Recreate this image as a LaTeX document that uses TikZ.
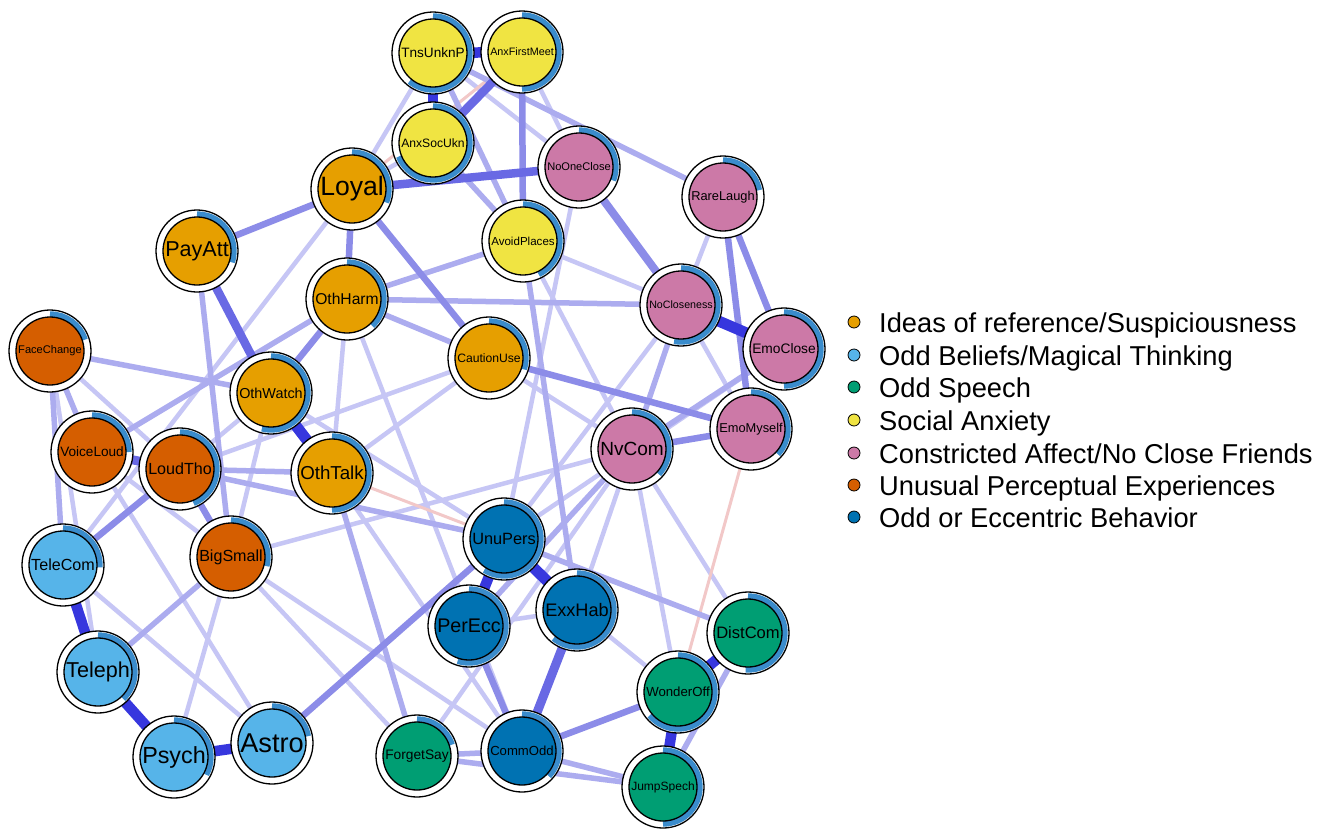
\documentclass[tikz,border=0pt]{standalone}
\usepackage{fontspec}
\setsansfont{Liberation Sans}
\usepackage{graphicx}
\definecolor{cOrange}{HTML}{E69F00}
\definecolor{cSky}{HTML}{56B4E9}
\definecolor{cGreen}{HTML}{009E73}
\definecolor{cYellow}{HTML}{F0E442}
\definecolor{cPink}{HTML}{CC79A7}
\definecolor{cVerm}{HTML}{D55E00}
\definecolor{cBlue}{HTML}{0072B2}
\definecolor{arccol}{RGB}{58,140,204}
\definecolor{ecA}{RGB}{55,55,222}
\definecolor{ecB}{RGB}{105,105,228}
\definecolor{ecC}{RGB}{140,140,232}
\definecolor{ecD}{RGB}{172,172,239}
\definecolor{ecE}{RGB}{198,198,245}
\definecolor{ecN}{RGB}{242,200,200}
\tikzset{
  ea/.style={draw=ecA,line width=10.5},
  eb/.style={draw=ecB,line width=8.5},
  ec/.style={draw=ecC,line width=6.5},
  ed/.style={draw=ecD,line width=5.5},
  ee/.style={draw=ecE,line width=4.5},
  en/.style={draw=ecN,line width=3},
  lgdot/.style={circle,draw=black,line width=0.8,minimum size=12pt,inner sep=0pt},
  lgtext/.style={anchor=base west,inner sep=0pt,font=\sffamily\fontsize{27.3}{31}\selectfont}
}
\newcommand\drawnode[3]{%
  \fill[white] (#1) circle[radius=41];
  \draw[arccol,line width=5.6] (#1) ++(-90:36.9) arc[start angle=-90,delta angle=#3*360,radius=36.9];
  \draw[black,line width=1.3] (#1) circle[radius=41];
  \draw[black,line width=1.3,fill=#2] (#1) circle[radius=34];
  \node[inner sep=0pt,font=\sffamily] (#1-lab) at (#1) {\resizebox{63.5pt}{!}{#1}};
}
\begin{document}
\begin{tikzpicture}[x=1pt,y=-1pt]
\useasboundingbox[fill=white] (0,0) rectangle (1327,828);
% node centres
\coordinate (TnsUnknP) at (433,53);
\coordinate (AnxFirstMeet) at (522,52);
\coordinate (AnxSocUkn) at (433,143);
\coordinate (NoOneClose) at (579,167);
\coordinate (RareLaugh) at (723,197);
\coordinate (AvoidPlaces) at (523,241);
\coordinate (NoCloseness) at (681,305);
\coordinate (EmoClose) at (784,349);
\coordinate (CautionUse) at (489,358);
\coordinate (Loyal) at (352,189);
\coordinate (PayAtt) at (197,251);
\coordinate (OthHarm) at (347,299);
\coordinate (FaceChange) at (50,351);
\coordinate (OthWatch) at (271,393);
\coordinate (OthTalk) at (332,473);
\coordinate (VoiceLoud) at (92,452);
\coordinate (LoudTho) at (180,469);
\coordinate (BigSmall) at (231,557);
\coordinate (TeleCom) at (63,565);
\coordinate (Teleph) at (98,672);
\coordinate (Psych) at (174,757);
\coordinate (Astro) at (272,743);
\coordinate (ForgetSay) at (417,756);
\coordinate (CommOdd) at (522,751);
\coordinate (PerEcc) at (469,626);
\coordinate (ExxHab) at (577,610);
\coordinate (UnuPers) at (504,539);
\coordinate (NvCom) at (632,449);
\coordinate (EmoMyself) at (751,429);
\coordinate (DistCom) at (748,633);
\coordinate (WonderOff) at (678,692);
\coordinate (JumpSpech) at (663,787);
% weakest edges
\draw[ee] (TnsUnknP) -- (Loyal);
\draw[ee] (Loyal) -- (AnxSocUkn);
\draw[ee] (TnsUnknP) -- (NoOneClose);
\draw[ee] (AnxFirstMeet) -- (NoOneClose);
\draw[ee] (NoOneClose) -- (UnuPers);
\draw[ee] (AvoidPlaces) -- (NoCloseness);
\draw[ee] (AvoidPlaces) -- (NvCom);
\draw[ee] (RareLaugh) -- (NoCloseness);
\draw[ee] (NoCloseness) -- (UnuPers);
\draw[ee] (EmoClose) -- (UnuPers);
\draw[ee] (NoCloseness) -- (EmoMyself);
\draw[ee] (FaceChange) -- (LoudTho);
\draw[ee] (FaceChange) -- (Teleph);
\draw[ee] (VoiceLoud) -- (Astro);
\draw[ee] (VoiceLoud) -- (BigSmall);
\draw[ee] (TeleCom) -- (Astro);
\draw[ee] (Psych) -- (BigSmall);
\draw[ee] (BigSmall) -- (CommOdd);
\draw[ee] (BigSmall) -- (ForgetSay);
\draw[ee] (BigSmall) -- (NvCom);
\draw[ee] (OthTalk) -- (CommOdd);
\draw[ee] (OthHarm) -- (CommOdd);
\draw[ee] (OthHarm) -- (OthTalk);
\draw[ee] (OthWatch) -- (UnuPers);
\draw[ee] (OthWatch) -- (BigSmall);
\draw[ee] (LoudTho) -- (CautionUse);
\draw[ee] (LoudTho) -- (OthWatch);
\draw[ee] (Loyal) -- (TeleCom);
\draw[ee] (NvCom) -- (WonderOff);
\draw[ee] (NvCom) -- (DistCom);
\draw[ee] (ExxHab) -- (WonderOff);
\draw[ee] (PerEcc) -- (ExxHab);
\draw[ee] (ForgetSay) -- (NvCom);
\draw[ee] (ExxHab) -- (NvCom);
\draw[ee] (CautionUse) -- (NvCom);
\draw[ee] (CautionUse) -- (OthTalk);
% negative edges
\draw[en] (OthTalk) -- (UnuPers);
\draw[en] (EmoMyself) -- (WonderOff);
\draw[en] (AnxFirstMeet) -- (Loyal);
% light edges
\draw[ed] (CommOdd) -- (JumpSpech);
\draw[ed] (ForgetSay) -- (JumpSpech);
\draw[ed] (ForgetSay) -- (CommOdd);
\draw[ed] (OthTalk) -- (ForgetSay);
\draw[ed] (DistCom) -- (JumpSpech);
\draw[ed] (FaceChange) -- (OthWatch);
\draw[ed] (TnsUnknP) -- (RareLaugh);
\draw[ed] (LoudTho) -- (UnuPers);
\draw[ed] (UnuPers) -- (DistCom);
\draw[ed] (OthHarm) -- (NoCloseness);
\draw[ed] (AvoidPlaces) -- (OthHarm);
\draw[ed] (OthHarm) -- (CautionUse);
\draw[ed] (FaceChange) -- (TeleCom);
\draw[ed] (PayAtt) -- (BigSmall);
\draw[ed] (VoiceLoud) -- (OthHarm);
\draw[ed] (AnxSocUkn) -- (AvoidPlaces);
\draw[ed] (TnsUnknP) -- (AvoidPlaces);
\draw[ed] (NoCloseness) -- (NvCom);
\draw[ed] (EmoClose) -- (NvCom);
\draw[ed] (LoudTho) -- (OthTalk);
\draw[ed] (AvoidPlaces) -- (ExxHab);
\draw[ed] (FaceChange) -- (VoiceLoud);
\draw[ed] (Teleph) -- (BigSmall);
\draw[ed] (NvCom) -- (PerEcc);
% medium edges
\draw[ec] (Loyal) -- (PayAtt);
\draw[ec] (Loyal) -- (OthHarm);
\draw[ec] (Loyal) -- (CautionUse);
\draw[ec] (AnxFirstMeet) -- (AvoidPlaces);
\draw[ec] (CautionUse) -- (EmoMyself);
\draw[ec] (RareLaugh) -- (EmoClose);
\draw[ec] (RareLaugh) -- (EmoMyself);
\draw[ec] (NvCom) -- (EmoMyself);
\draw[ec] (LoudTho) -- (BigSmall);
\draw[ec] (LoudTho) -- (TeleCom);
\draw[ec] (PerEcc) -- (CommOdd);
\draw[ec] (CommOdd) -- (WonderOff);
\draw[ec] (OthHarm) -- (OthWatch);
\draw[ec] (Astro) -- (UnuPers);
\draw[ec,line width=8] (NoOneClose) -- (NoCloseness);
% strong edges
\draw[eb] (AnxFirstMeet) -- (AnxSocUkn);
\draw[eb] (Loyal) -- (NoOneClose);
\draw[eb] (PayAtt) -- (OthWatch);
\draw[eb,line width=9] (ExxHab) -- (CommOdd);
\draw[eb,line width=9] (VoiceLoud) -- (LoudTho);
% strongest edges
\draw[ea] (TnsUnknP) -- (AnxFirstMeet);
\draw[ea] (TnsUnknP) -- (AnxSocUkn);
\draw[ea,line width=11] (OthWatch) -- (OthTalk);
\draw[ea,line width=11] (NoCloseness) -- (EmoClose);
\draw[ea] (TeleCom) -- (Teleph);
\draw[ea] (Teleph) -- (Psych);
\draw[ea] (Psych) -- (Astro);
\draw[ea] (UnuPers) -- (PerEcc);
\draw[ea,line width=11] (UnuPers) -- (ExxHab);
\draw[ea] (DistCom) -- (WonderOff);
\draw[ea] (WonderOff) -- (JumpSpech);
% nodes
\drawnode{TnsUnknP}{cYellow}{0.61}
\drawnode{AnxFirstMeet}{cYellow}{0.5}
\drawnode{AnxSocUkn}{cYellow}{0.69}
\drawnode{NoOneClose}{cPink}{0.31}
\drawnode{RareLaugh}{cPink}{0.22}
\drawnode{AvoidPlaces}{cYellow}{0.43}
\drawnode{NoCloseness}{cPink}{0.53}
\drawnode{EmoClose}{cPink}{0.5}
\drawnode{CautionUse}{cOrange}{0.30}
\drawnode{Loyal}{cOrange}{0.31}
\drawnode{PayAtt}{cOrange}{0.30}
\drawnode{OthHarm}{cOrange}{0.38}
\drawnode{FaceChange}{cVerm}{0.2}
\drawnode{OthWatch}{cOrange}{0.54}
\drawnode{OthTalk}{cOrange}{0.5}
\drawnode{VoiceLoud}{cVerm}{0.25}
\drawnode{LoudTho}{cVerm}{0.44}
\drawnode{BigSmall}{cVerm}{0.29}
\drawnode{TeleCom}{cSky}{0.26}
\drawnode{Teleph}{cSky}{0.38}
\drawnode{Psych}{cSky}{0.33}
\drawnode{Astro}{cSky}{0.22}
\drawnode{ForgetSay}{cGreen}{0.2}
\drawnode{CommOdd}{cBlue}{0.37}
\drawnode{PerEcc}{cBlue}{0.55}
\drawnode{ExxHab}{cBlue}{0.61}
\drawnode{UnuPers}{cBlue}{0.59}
\drawnode{NvCom}{cPink}{0.37}
\drawnode{EmoMyself}{cPink}{0.37}
\drawnode{DistCom}{cGreen}{0.51}
\drawnode{WonderOff}{cGreen}{0.64}
\drawnode{JumpSpech}{cGreen}{0.5}
% legend
\node[lgdot,fill=cOrange] (lg1) at (854,322) {};
\node[lgdot,fill=cSky] (lg2) at (854,355) {};
\node[lgdot,fill=cGreen] (lg3) at (854,387) {};
\node[lgdot,fill=cYellow] (lg4) at (854,420) {};
\node[lgdot,fill=cPink] (lg5) at (854,453) {};
\node[lgdot,fill=cVerm] (lg6) at (854,485) {};
\node[lgdot,fill=cBlue] (lg7) at (854,517) {};
\node[lgtext] (lt1) at (879,332) {Ideas of reference/Suspiciousness};
\node[lgtext] (lt2) at (879,365) {Odd Beliefs/Magical Thinking};
\node[lgtext] (lt3) at (879,397) {Odd Speech};
\node[lgtext] (lt4) at (879,430) {Social Anxiety};
\node[lgtext] (lt5) at (879,463) {Constricted Affect/No Close Friends};
\node[lgtext] (lt6) at (879,495) {Unusual Perceptual Experiences};
\node[lgtext] (lt7) at (879,527) {Odd or Eccentric Behavior};
\end{tikzpicture}
\end{document}
